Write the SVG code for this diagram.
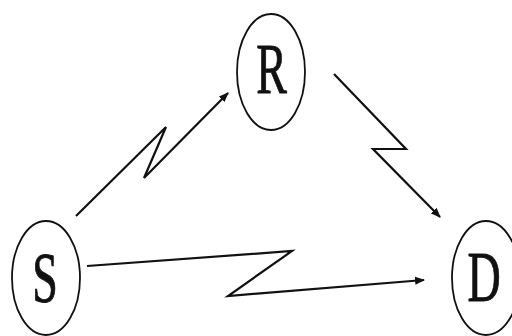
<svg xmlns="http://www.w3.org/2000/svg" width="512" height="336" viewBox="0 0 512 336">
<style>
.node ellipse{fill:#fff;stroke:#111;stroke-width:1.8}
.node text{font-family:"Liberation Serif","Times New Roman",serif;font-size:46px;fill:#111;stroke:#111;stroke-width:0.6;text-anchor:middle}
.edge{fill:none;stroke:#111;stroke-width:2.2;stroke-linejoin:miter;marker-end:url(#arr)}
</style>
<defs>
<marker id="arr" viewBox="0 0 10 10" refX="9" refY="5" markerWidth="4.5" markerHeight="4.5" orient="auto" markerUnits="strokeWidth">
<path d="M0,1 L10,5 L0,9 z" fill="#111"/>
</marker>
</defs>
<rect width="512" height="336" fill="#fff"/>
<g id="connectors">
<path class="edge" d="M76,216 L166,127 L144,178 L228,93"/>
<path class="edge" d="M334,74 L406,149 L373,149 L440,217"/>
<path class="edge" d="M87,266 L292,251 L228,296 L424,280"/>
</g>
<g id="node-R" class="node">
<ellipse cx="271" cy="72" rx="34" ry="58"/>
<text transform="translate(271.5,93) scale(1,1.55)">R</text>
</g>
<g id="node-S" class="node">
<ellipse cx="46" cy="278" rx="34" ry="57"/>
<text transform="translate(45,302) scale(1,1.55)">S</text>
</g>
<g id="node-D" class="node">
<ellipse cx="486" cy="278" rx="34" ry="57"/>
<text transform="translate(484,301) scale(1,1.55)">D</text>
</g>
</svg>
